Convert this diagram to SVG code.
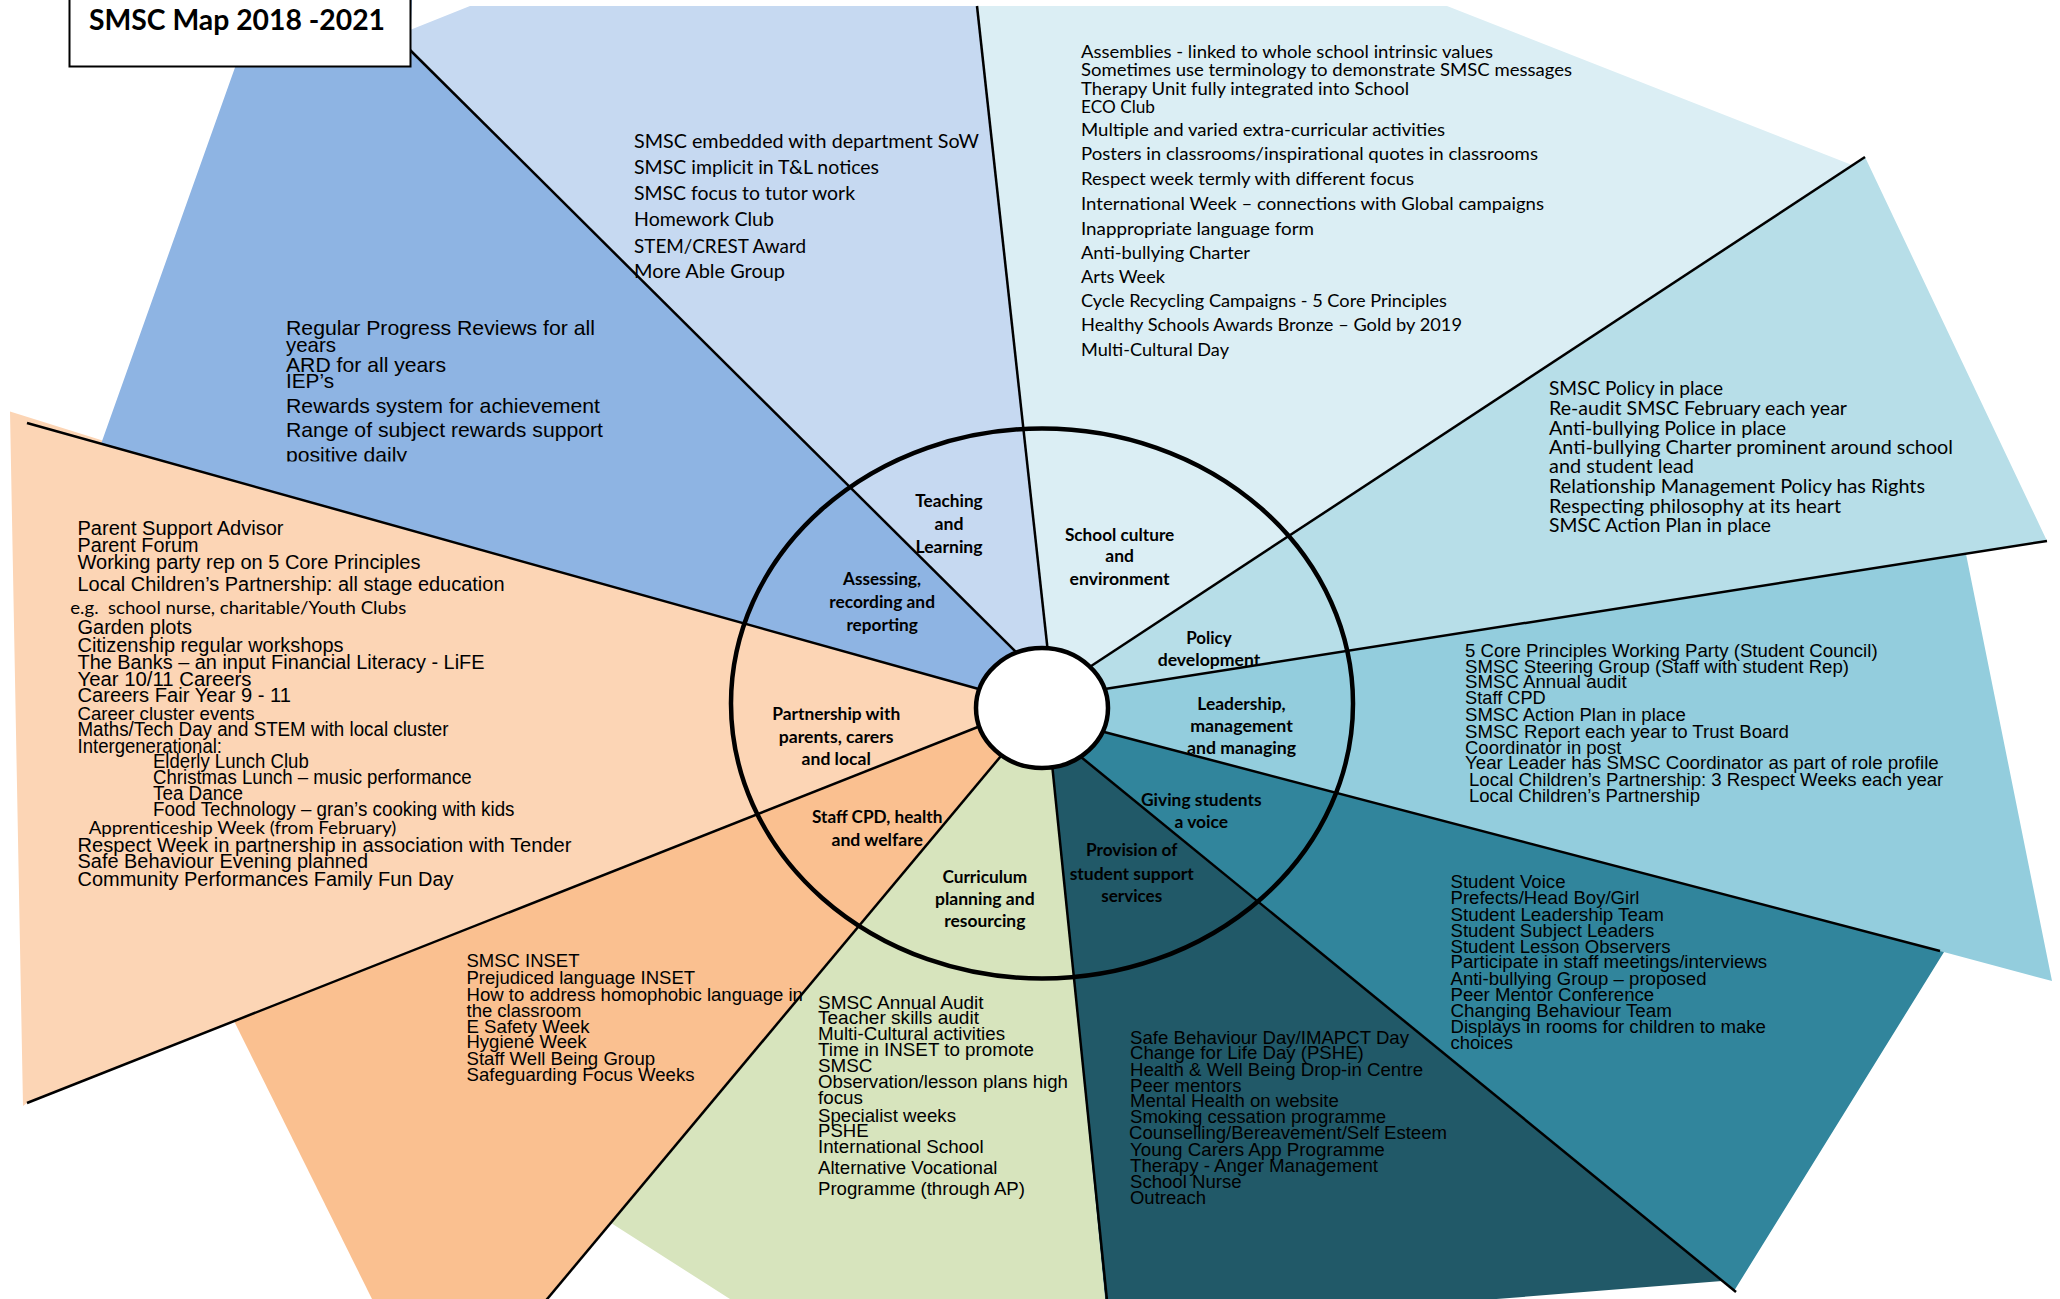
<svg xmlns="http://www.w3.org/2000/svg" width="2060" height="1299" viewBox="0 0 2060 1299">
<defs>
<style>
.ar{font-family:"Liberation Sans",Arial,sans-serif;fill:#000}
.cal{font-family:Lato,"Liberation Sans",sans-serif;fill:#000}
.lab{font-family:Lato,"Liberation Sans",sans-serif;font-weight:bold;font-size:16.5px;fill:#000;text-anchor:middle}
.f20{font-size:20px}
.f21{font-size:21px}
.f187{font-size:18.67px}
.c18{font-size:18px}
.c19{font-size:19px}
.c17{font-size:17px}
.div{stroke:#000;stroke-width:2.5;fill:none;stroke-linecap:butt}
</style>
<clipPath id="clipAssess"><rect x="250" y="300" width="420" height="161.5"/></clipPath>
</defs>
<rect x="0" y="0" width="2060" height="1299" fill="#fff"/>

<g id="partnership">
<polygon points="10,411.5 187,467 1042,706 979,727 27,1103 23,1106" fill="#FCD5B5"/>
</g>
<g id="assessing">
<polygon points="979,689 101,444 259,0 412,0 410,50 1017,653 1042,706" fill="#8EB4E3"/>
</g>
<g id="teaching">
<polygon points="410,50 410,30 470,6 977,6 1047,647 1042,706 1017,653" fill="#C6D9F1"/>
</g>
<g id="school-culture">
<polygon points="977,6 1447,6 1852,165 1092,666 1042,706 1047,647" fill="#DBEEF4"/>
</g>
<g id="policy">
<polygon points="1865,157 2047,541 1107,689 1042,706 1092,666" fill="#B7DEE8"/>
</g>
<g id="leadership">
<polygon points="1107,689 1966,554 2052,981 1940,951 1104,732 1042,706" fill="#93CDDD"/>
</g>
<g id="giving">
<polygon points="1104,732 1944,952 1734,1291 1082,758 1042,706" fill="#31859C"/>
</g>
<g id="provision">
<polygon points="1082,758 1722,1281 1108,1330 1053,769 1042,706" fill="#215968"/>
</g>
<g id="curriculum">
<polygon points="1053,769 1105,1299 730,1299 611,1223 1001,756 1042,706" fill="#D7E4BD"/>
</g>
<g id="staff-cpd">
<polygon points="1001,756 547,1299 372,1299 234,1021 979,727 1042,706" fill="#FAC090"/>
</g>

<g id="connectors">
<line class="div" x1="405" y1="45" x2="1028" y2="664"/>
<line class="div" x1="977" y1="6" x2="1049" y2="662"/>
<line class="div" x1="1865" y1="157" x2="1079" y2="674"/>
<line class="div" x1="2047" y1="541" x2="1092" y2="691"/>
<line class="div" x1="1940" y1="951" x2="1089" y2="728"/>
<line class="div" x1="1736" y1="1292" x2="1070" y2="748"/>
<line class="div" x1="1108" y1="1310" x2="1051" y2="754"/>
<line class="div" x1="538" y1="1310" x2="1011" y2="744"/>
<line class="div" x1="27" y1="1103" x2="993" y2="721"/>
<line class="div" x1="27" y1="423" x2="993" y2="693"/>
</g>

<g id="ring">
<ellipse cx="1042" cy="703.5" rx="311" ry="275" fill="none" stroke="#000" stroke-width="4.5"/>
</g>
<g id="hub">
<ellipse cx="1042" cy="708" rx="66" ry="60" fill="#fff" stroke="#000" stroke-width="4.5"/>
</g>

<g id="labels">
<text class="lab" x="949" y="507.4" textLength="67.4" lengthAdjust="spacingAndGlyphs">Teaching</text>
<text class="lab" x="949" y="530.4" textLength="29" lengthAdjust="spacingAndGlyphs">and</text>
<text class="lab" x="949" y="552.6" textLength="67" lengthAdjust="spacingAndGlyphs">Learning</text>
<text class="lab" x="1119.6" y="540.7" textLength="109.4" lengthAdjust="spacingAndGlyphs">School culture</text>
<text class="lab" x="1119.6" y="562" textLength="28.6" lengthAdjust="spacingAndGlyphs">and</text>
<text class="lab" x="1119.6" y="585" textLength="100" lengthAdjust="spacingAndGlyphs">environment</text>
<text class="lab" x="1209" y="644.4" textLength="45.5" lengthAdjust="spacingAndGlyphs">Policy</text>
<text class="lab" x="1209" y="666.2" textLength="102.7" lengthAdjust="spacingAndGlyphs">development</text>
<text class="lab" x="1241.5" y="709.5" textLength="88.4" lengthAdjust="spacingAndGlyphs">Leadership,</text>
<text class="lab" x="1241.5" y="731.7" textLength="102.7" lengthAdjust="spacingAndGlyphs">management</text>
<text class="lab" x="1241.5" y="754.3" textLength="109" lengthAdjust="spacingAndGlyphs">and managing</text>
<text class="lab" x="1201.3" y="806.3" textLength="120.5" lengthAdjust="spacingAndGlyphs">Giving students</text>
<text class="lab" x="1201.3" y="828" textLength="53.6" lengthAdjust="spacingAndGlyphs">a voice</text>
<text class="lab" x="1131.7" y="856.4" textLength="91.5" lengthAdjust="spacingAndGlyphs">Provision of</text>
<text class="lab" x="1131.7" y="879.8" textLength="124" lengthAdjust="spacingAndGlyphs">student support</text>
<text class="lab" x="1131.7" y="901.6" textLength="61" lengthAdjust="spacingAndGlyphs">services</text>
<text class="lab" x="984.8" y="882.5" textLength="84.8" lengthAdjust="spacingAndGlyphs">Curriculum</text>
<text class="lab" x="984.8" y="904.7" textLength="99.6" lengthAdjust="spacingAndGlyphs">planning and</text>
<text class="lab" x="984.8" y="927.2" textLength="81.3" lengthAdjust="spacingAndGlyphs">resourcing</text>
<text class="lab" x="877.2" y="823.1" textLength="130.4" lengthAdjust="spacingAndGlyphs">Staff CPD, health</text>
<text class="lab" x="877.2" y="846.1" textLength="91.5" lengthAdjust="spacingAndGlyphs">and welfare</text>
<text class="lab" x="836.2" y="719.8" textLength="128" lengthAdjust="spacingAndGlyphs">Partnership with</text>
<text class="lab" x="836.2" y="742.8" textLength="114.7" lengthAdjust="spacingAndGlyphs">parents, carers</text>
<text class="lab" x="836.2" y="764.6" textLength="69.2" lengthAdjust="spacingAndGlyphs">and local</text>
<text class="lab" x="882.1" y="585.1" textLength="78" lengthAdjust="spacingAndGlyphs">Assessing,</text>
<text class="lab" x="882.1" y="608.1" textLength="105.8" lengthAdjust="spacingAndGlyphs">recording and</text>
<text class="lab" x="882.1" y="630.6" textLength="71.4" lengthAdjust="spacingAndGlyphs">reporting</text>
</g>

<g id="teaching-list" class="cal c19">
<text x="634" y="148.3" textLength="345" lengthAdjust="spacingAndGlyphs">SMSC embedded with department SoW</text>
<text x="634" y="174" textLength="245" lengthAdjust="spacingAndGlyphs">SMSC implicit in T&amp;L notices</text>
<text x="634" y="200" textLength="221" lengthAdjust="spacingAndGlyphs">SMSC focus to tutor work</text>
<text x="634" y="226" textLength="140" lengthAdjust="spacingAndGlyphs">Homework Club</text>
<text x="634" y="252.6" textLength="172" lengthAdjust="spacingAndGlyphs">STEM/CREST Award</text>
<text x="634" y="278.3" textLength="151" lengthAdjust="spacingAndGlyphs">More Able Group</text>
</g>

<g id="school-culture-list" class="cal c18">
<text x="1081" y="58" textLength="412" lengthAdjust="spacingAndGlyphs">Assemblies - linked to whole school intrinsic values</text>
<text x="1081" y="76.3" textLength="491" lengthAdjust="spacingAndGlyphs">Sometimes use terminology to demonstrate SMSC messages</text>
<text x="1081" y="94.6" textLength="328" lengthAdjust="spacingAndGlyphs">Therapy Unit fully integrated into School</text>
<text x="1081" y="113" textLength="74" lengthAdjust="spacingAndGlyphs">ECO Club</text>
<text x="1081" y="136.3" textLength="364" lengthAdjust="spacingAndGlyphs">Multiple and varied extra-curricular activities</text>
<text x="1081" y="160.3" textLength="457" lengthAdjust="spacingAndGlyphs">Posters in classrooms/inspirational quotes in classrooms</text>
<text x="1081" y="185.3" textLength="333" lengthAdjust="spacingAndGlyphs">Respect week termly with different focus</text>
<text x="1081" y="209.6" textLength="463" lengthAdjust="spacingAndGlyphs">International Week – connections with Global campaigns</text>
<text x="1081" y="234.6" textLength="233" lengthAdjust="spacingAndGlyphs">Inappropriate language form</text>
<text x="1081" y="258.6" textLength="169" lengthAdjust="spacingAndGlyphs">Anti-bullying Charter</text>
<text x="1081" y="283" textLength="84" lengthAdjust="spacingAndGlyphs">Arts Week</text>
<text x="1081" y="307.3" textLength="366" lengthAdjust="spacingAndGlyphs">Cycle Recycling Campaigns - 5 Core Principles</text>
<text x="1081" y="331.3" textLength="381" lengthAdjust="spacingAndGlyphs">Healthy Schools Awards Bronze – Gold by 2019</text>
<text x="1081" y="356.3" textLength="148" lengthAdjust="spacingAndGlyphs">Multi-Cultural Day</text>
</g>

<g id="policy-list" class="cal c19">
<text x="1549" y="394.8" textLength="174" lengthAdjust="spacingAndGlyphs">SMSC Policy in place</text>
<text x="1549" y="414.8" textLength="298" lengthAdjust="spacingAndGlyphs">Re-audit SMSC February each year</text>
<text x="1549" y="434.8" textLength="237" lengthAdjust="spacingAndGlyphs">Anti-bullying Police in place</text>
<text x="1549" y="453.8" textLength="404" lengthAdjust="spacingAndGlyphs">Anti-bullying Charter prominent around school</text>
<text x="1549" y="473.2" textLength="145" lengthAdjust="spacingAndGlyphs">and student lead</text>
<text x="1549" y="492.5" textLength="376" lengthAdjust="spacingAndGlyphs">Relationship Management Policy has Rights</text>
<text x="1549" y="512.5" textLength="292" lengthAdjust="spacingAndGlyphs">Respecting philosophy at its heart</text>
<text x="1549" y="531.5" textLength="222" lengthAdjust="spacingAndGlyphs">SMSC Action Plan in place</text>
</g>

<g id="assessing-list" class="ar f21" clip-path="url(#clipAssess)">
<text x="286" y="335" textLength="309" lengthAdjust="spacingAndGlyphs">Regular Progress Reviews for all</text>
<text x="286" y="351.7" textLength="50" lengthAdjust="spacingAndGlyphs">years</text>
<text x="286" y="371.7" textLength="160" lengthAdjust="spacingAndGlyphs">ARD for all years</text>
<text x="286" y="388.3" textLength="48" lengthAdjust="spacingAndGlyphs">IEP’s</text>
<text x="286" y="413" textLength="314" lengthAdjust="spacingAndGlyphs">Rewards system for achievement</text>
<text x="286" y="437" textLength="317" lengthAdjust="spacingAndGlyphs">Range of subject rewards support</text>
<text x="286" y="462" textLength="121" lengthAdjust="spacingAndGlyphs">positive daily</text>
</g>

<g id="partnership-list" class="ar f20">
<text x="77.5" y="535" textLength="206" lengthAdjust="spacingAndGlyphs">Parent Support Advisor</text>
<text x="77.5" y="551.5" textLength="121" lengthAdjust="spacingAndGlyphs">Parent Forum</text>
<text x="77.5" y="569" textLength="343" lengthAdjust="spacingAndGlyphs">Working party rep on 5 Core Principles</text>
<text x="77.5" y="591" textLength="427" lengthAdjust="spacingAndGlyphs">Local Children’s Partnership: all stage education</text>
<text class="cal c17" x="70.3" y="614" textLength="336" lengthAdjust="spacingAndGlyphs">e.g.&#160; school nurse, charitable/Youth Clubs</text>
<text x="77.5" y="634" textLength="114.5" lengthAdjust="spacingAndGlyphs">Garden plots</text>
<text x="77.5" y="651.5" textLength="266" lengthAdjust="spacingAndGlyphs">Citizenship regular workshops</text>
<text x="77.5" y="669" textLength="407" lengthAdjust="spacingAndGlyphs">The Banks – an input Financial Literacy - LiFE</text>
<text x="77.5" y="685.5" textLength="174" lengthAdjust="spacingAndGlyphs">Year 10/11 Careers</text>
<text x="77.5" y="702" textLength="213.5" lengthAdjust="spacingAndGlyphs">Careers Fair Year 9 - 11</text>
<text x="77.5" y="719.5" font-size="18.5" textLength="177" lengthAdjust="spacingAndGlyphs">Career cluster events</text>
<text x="77.5" y="735.5" textLength="371" lengthAdjust="spacingAndGlyphs">Maths/Tech Day and STEM with local cluster</text>
<text x="77.5" y="752.5" textLength="144.5" lengthAdjust="spacingAndGlyphs">Intergenerational:</text>
<text x="153" y="768" textLength="155.7" lengthAdjust="spacingAndGlyphs">Elderly Lunch Club</text>
<text x="153" y="784" textLength="318.6" lengthAdjust="spacingAndGlyphs">Christmas Lunch – music performance</text>
<text x="153" y="800" textLength="90" lengthAdjust="spacingAndGlyphs">Tea Dance</text>
<text x="153" y="816" textLength="361.5" lengthAdjust="spacingAndGlyphs">Food Technology – gran’s cooking with kids</text>
<text class="cal c17" x="88.7" y="834" textLength="307.5" lengthAdjust="spacingAndGlyphs">Apprenticeship Week (from February)</text>
<text x="77.5" y="851.5" textLength="494" lengthAdjust="spacingAndGlyphs">Respect Week in partnership in association with Tender</text>
<text x="77.5" y="868" textLength="290.5" lengthAdjust="spacingAndGlyphs">Safe Behaviour Evening planned</text>
<text x="77.5" y="885.5" textLength="376" lengthAdjust="spacingAndGlyphs">Community Performances Family Fun Day</text>
</g>

<g id="leadership-list" class="ar f187">
<text x="1465" y="656.5" textLength="412.6" lengthAdjust="spacingAndGlyphs">5 Core Principles Working Party (Student Council)</text>
<text x="1465" y="672.5" textLength="384" lengthAdjust="spacingAndGlyphs">SMSC Steering Group (Staff with student Rep)</text>
<text x="1465" y="688" textLength="161.6" lengthAdjust="spacingAndGlyphs">SMSC Annual audit</text>
<text x="1465" y="704" textLength="80.8" lengthAdjust="spacingAndGlyphs">Staff CPD</text>
<text x="1465" y="720.5" textLength="220.7" lengthAdjust="spacingAndGlyphs">SMSC Action Plan in place</text>
<text x="1465" y="737.5" textLength="323.9" lengthAdjust="spacingAndGlyphs">SMSC Report each year to Trust Board</text>
<text x="1465" y="754" textLength="156.3" lengthAdjust="spacingAndGlyphs">Coordinator in post</text>
<text x="1465" y="769" textLength="473.7" lengthAdjust="spacingAndGlyphs">Year Leader has SMSC Coordinator as part of role profile</text>
<text x="1469" y="785.5" textLength="474.3" lengthAdjust="spacingAndGlyphs">Local Children’s Partnership: 3 Respect Weeks each year</text>
<text x="1469" y="801.5" textLength="231" lengthAdjust="spacingAndGlyphs">Local Children’s Partnership</text>
</g>

<g id="giving-list" class="ar f187">
<text x="1450.5" y="888" textLength="115" lengthAdjust="spacingAndGlyphs">Student Voice</text>
<text x="1450.5" y="904" textLength="189" lengthAdjust="spacingAndGlyphs">Prefects/Head Boy/Girl</text>
<text x="1450.5" y="920.5" textLength="213.5" lengthAdjust="spacingAndGlyphs">Student Leadership Team</text>
<text x="1450.5" y="936.5" textLength="203.7" lengthAdjust="spacingAndGlyphs">Student Subject Leaders</text>
<text x="1450.5" y="952.5" textLength="220" lengthAdjust="spacingAndGlyphs">Student Lesson Observers</text>
<text x="1450.5" y="968" textLength="316.7" lengthAdjust="spacingAndGlyphs">Participate in staff meetings/interviews</text>
<text x="1450.5" y="985" textLength="256" lengthAdjust="spacingAndGlyphs">Anti-bullying Group – proposed</text>
<text x="1450.5" y="1000.5" textLength="203.7" lengthAdjust="spacingAndGlyphs">Peer Mentor Conference</text>
<text x="1450.5" y="1016.5" textLength="221.4" lengthAdjust="spacingAndGlyphs">Changing Behaviour Team</text>
<text x="1450.5" y="1032.5" textLength="315.4" lengthAdjust="spacingAndGlyphs">Displays in rooms for children to make</text>
<text x="1450.5" y="1049" textLength="62.4" lengthAdjust="spacingAndGlyphs">choices</text>
</g>

<g id="provision-list" class="ar f187">
<text x="1130" y="1044" textLength="279" lengthAdjust="spacingAndGlyphs">Safe Behaviour Day/IMAPCT Day</text>
<text x="1130" y="1059" textLength="233.8" lengthAdjust="spacingAndGlyphs">Change for Life Day (PSHE)</text>
<text x="1130" y="1075.5" textLength="293" lengthAdjust="spacingAndGlyphs">Health &amp; Well Being Drop-in Centre</text>
<text x="1130" y="1091.5" textLength="111.6" lengthAdjust="spacingAndGlyphs">Peer mentors</text>
<text x="1130" y="1107" textLength="208.8" lengthAdjust="spacingAndGlyphs">Mental Health on website</text>
<text x="1130" y="1123" textLength="256" lengthAdjust="spacingAndGlyphs">Smoking cessation programme</text>
<text x="1129" y="1139" textLength="318" lengthAdjust="spacingAndGlyphs">Counselling/Bereavement/Self Esteem</text>
<text x="1130" y="1155.5" textLength="254.8" lengthAdjust="spacingAndGlyphs">Young Carers App Programme</text>
<text x="1130" y="1171.5" textLength="248" lengthAdjust="spacingAndGlyphs">Therapy - Anger Management</text>
<text x="1130" y="1188" textLength="111.6" lengthAdjust="spacingAndGlyphs">School Nurse</text>
<text x="1130" y="1204" textLength="76" lengthAdjust="spacingAndGlyphs">Outreach</text>
</g>

<g id="curriculum-list" class="ar f187">
<text x="818" y="1009" textLength="165.6" lengthAdjust="spacingAndGlyphs">SMSC Annual Audit</text>
<text x="818" y="1024" textLength="161" lengthAdjust="spacingAndGlyphs">Teacher skills audit</text>
<text x="818" y="1040" textLength="187" lengthAdjust="spacingAndGlyphs">Multi-Cultural activities</text>
<text x="818" y="1056" textLength="216" lengthAdjust="spacingAndGlyphs">Time in INSET to promote</text>
<text x="818" y="1071.5" textLength="54.5" lengthAdjust="spacingAndGlyphs">SMSC</text>
<text x="818" y="1088" textLength="250" lengthAdjust="spacingAndGlyphs">Observation/lesson plans high</text>
<text x="818" y="1104" textLength="45" lengthAdjust="spacingAndGlyphs">focus</text>
<text x="818" y="1121.5" textLength="138" lengthAdjust="spacingAndGlyphs">Specialist weeks</text>
<text x="818" y="1136.5" textLength="50.6" lengthAdjust="spacingAndGlyphs">PSHE</text>
<text x="818" y="1153" textLength="165.6" lengthAdjust="spacingAndGlyphs">International School</text>
<text x="818" y="1174" textLength="179.4" lengthAdjust="spacingAndGlyphs">Alternative Vocational</text>
<text x="818" y="1195" textLength="207" lengthAdjust="spacingAndGlyphs">Programme (through AP)</text>
</g>

<g id="staff-cpd-list" class="ar f187">
<text x="466.5" y="967" textLength="113" lengthAdjust="spacingAndGlyphs">SMSC INSET</text>
<text x="466.5" y="984" textLength="228.6" lengthAdjust="spacingAndGlyphs">Prejudiced language INSET</text>
<text x="466.5" y="1001" textLength="336.4" lengthAdjust="spacingAndGlyphs">How to address homophobic language in</text>
<text x="466.5" y="1016.5" textLength="115" lengthAdjust="spacingAndGlyphs">the classroom</text>
<text x="466.5" y="1032.5" textLength="123" lengthAdjust="spacingAndGlyphs">E Safety Week</text>
<text x="466.5" y="1048" textLength="120" lengthAdjust="spacingAndGlyphs">Hygiene Week</text>
<text x="466.5" y="1065" textLength="188.6" lengthAdjust="spacingAndGlyphs">Staff Well Being Group</text>
<text x="466.5" y="1080.5" textLength="228" lengthAdjust="spacingAndGlyphs">Safeguarding Focus Weeks</text>
</g>

<g id="title">
<rect x="69.5" y="-1" width="341" height="67.5" fill="#fff" stroke="#000" stroke-width="2"/>
<text class="cal" x="89" y="29.5" font-size="29" font-weight="bold" textLength="296" lengthAdjust="spacingAndGlyphs">SMSC Map 2018 -2021</text>
</g>
</svg>
